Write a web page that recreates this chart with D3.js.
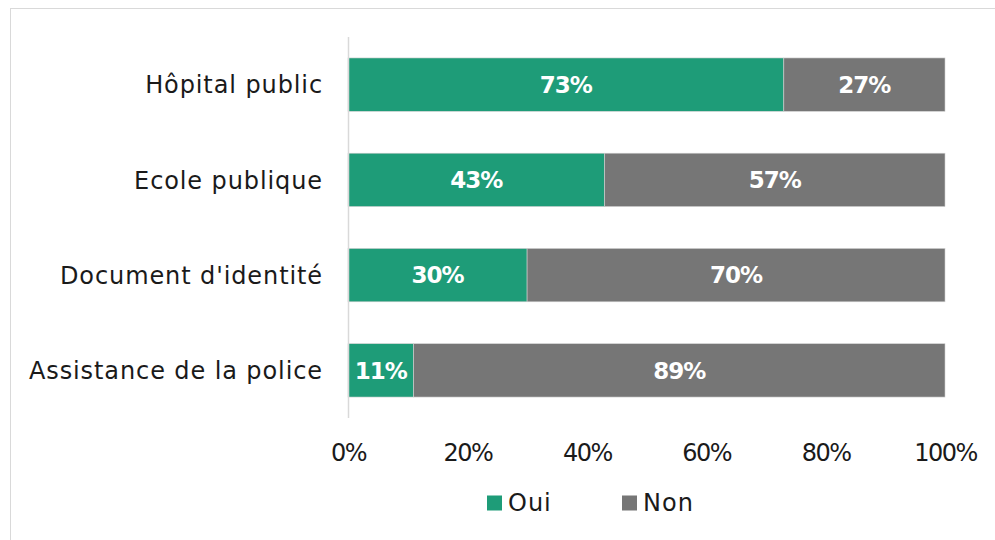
<!DOCTYPE html>
<html><head><meta charset="utf-8">
<script src="https://cdn.jsdelivr.net/npm/d3@7"></script>
<style>body{margin:0;background:#fff}svg{display:block}</style>
</head><body>
<script>
const categories = ["Hôpital public","Ecole publique","Document d'identité","Assistance de la police"];
const oui = [73,43,30,11];
const non = [27,57,70,89];
const seriesNames = ["Oui","Non"];
const tickValues = [0,20,40,60,80,100];

const W=995,H=540;
const colors={Oui:"#1e9c78",Non:"#767676"};
const font="'DejaVu Sans', sans-serif";
const svg=d3.select("body").append("svg").attr("width",W).attr("height",H);
svg.append("rect").attr("x",10.5).attr("y",8.5).attr("width",W).attr("height",H).attr("fill","none").attr("stroke","#d9d9d9");

const x=d3.scaleLinear().domain([0,100]).range([348,945]);
const y=d3.scaleBand().domain(categories).range([37,418]).paddingInner(0.44).paddingOuter(0.22);

const rows=categories.map((c,i)=>({c,Oui:oui[i],Non:non[i]}));
const stack=d3.stack().keys(seriesNames)(rows);

const g=svg.append("g");
stack.forEach(s=>{
  g.selectAll(null).data(s).enter().append("rect")
    .attr("x",d=>x(d[0])).attr("width",d=>x(d[1])-x(d[0]))
    .attr("y",d=>y(d.data.c)).attr("height",y.bandwidth())
    .attr("fill",colors[s.key]).attr("stroke","#d0d0d0").attr("stroke-width",0.6);
  g.selectAll(null).data(s).enter().append("text")
    .attr("x",d=>(x(d[0])+x(d[1]))/2).attr("y",d=>y(d.data.c)+y.bandwidth()/2)
    .attr("dy","0.36em").attr("text-anchor","middle")
    .attr("fill","#fff").attr("font-family",font).attr("font-weight","bold").attr("font-size",23)
    .attr("letter-spacing",-1)
    .text(d=>(d[1]-d[0])+"%");
});

// y axis line
svg.append("line").attr("x1",348.5).attr("x2",348.5).attr("y1",37).attr("y2",418).attr("stroke","#d9d9d9").attr("stroke-width",1.5);

// category labels
svg.selectAll(".cat").data(categories).enter().append("text")
  .attr("x",323).attr("y",d=>y(d)+y.bandwidth()/2).attr("dy","0.36em")
  .attr("text-anchor","end").attr("font-family",font).attr("font-size",24).attr("letter-spacing",0.9).attr("fill","#1a1a1a")
  .text(d=>d);

// x tick labels
const xa=d3.axisBottom(x).tickValues(tickValues).tickFormat(d=>d+"%").tickSize(0).tickPadding(0);
const ax=svg.append("g").attr("transform","translate(0,452.5)").call(xa);
ax.select(".domain").remove();
ax.selectAll("text").attr("dy","0.36em").attr("font-family",font).attr("font-size",24).attr("letter-spacing",-1.5).attr("fill","#1a1a1a");

// legend
const leg=[{k:"Oui",x:487},{k:"Non",x:622}];
leg.forEach(l=>{
  svg.append("rect").attr("x",l.x).attr("y",495.5).attr("width",15).attr("height",15).attr("fill",colors[l.k]);
  svg.append("text").attr("x",l.x+21).attr("y",502.5).attr("dy","0.36em").attr("font-family",font).attr("font-size",24).attr("letter-spacing",1).attr("fill","#1a1a1a").text(l.k);
});
</script>
</body></html>
